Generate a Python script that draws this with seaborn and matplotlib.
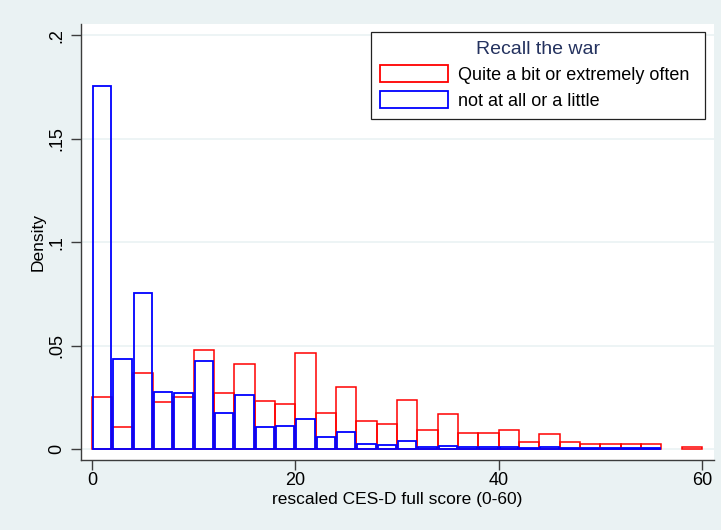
import numpy as np
import pandas as pd
import seaborn as sns
import matplotlib.pyplot as plt
from matplotlib.patches import Patch

# bins of width 2 on the rescaled CES-D score
bin_edges = list(range(0, 61, 2))
bin_centers = [e + 1 for e in bin_edges[:-1]]

# densities, one value per bin (0-2, 2-4, ..., 58-60)
often_density = [0.0250, 0.0108, 0.0368, 0.0229, 0.0250, 0.0477, 0.0270, 0.0409, 0.0231, 0.0220,
                 0.0464, 0.0173, 0.0299, 0.0136, 0.0121, 0.0238, 0.0092, 0.0170, 0.0077, 0.0077,
                 0.0092, 0.0034, 0.0074, 0.0032, 0.0023, 0.0026, 0.0023, 0.0023, 0.0, 0.0011]
little_density = [0.1754, 0.0436, 0.0753, 0.0275, 0.0270, 0.0428, 0.0173, 0.0260, 0.0105, 0.0113,
                  0.0144, 0.0057, 0.0081, 0.0024, 0.0021, 0.0037, 0.0011, 0.0016, 0.0008, 0.0008,
                  0.0010, 0.0005, 0.0008, 0.0005, 0.0003, 0.0003, 0.0003, 0.0003, 0.0, 0.0]

group_labels = ['Quite a bit or extremely often', 'not at all or a little']
group_colors = ['#FF0000', '#0000FF']
y_ticks = [0, 0.05, 0.1, 0.15, 0.2]
y_tick_labels = ['0', '.05', '.1', '.15', '.2']
x_ticks = [0, 20, 40, 60]

bg = '#EAF2F3'
plt.rcParams['font.family'] = ['Liberation Sans', 'DejaVu Sans']

df = pd.DataFrame({
    'score': bin_centers * 2,
    'density': often_density + little_density,
    'group': [group_labels[0]] * len(bin_centers) + [group_labels[1]] * len(bin_centers),
})

fig = plt.figure(figsize=(7.21, 5.30), dpi=100, facecolor=bg)
ax = fig.add_axes([81 / 721, 1 - 460 / 530, 633 / 721, 436 / 530])
ax.set_facecolor('white')

for lab, col, lw, shrink in zip(group_labels, group_colors, [1.1, 1.3], [1.0, 0.9]):
    sub = df[df['group'] == lab]
    sns.histplot(data=sub, x='score', weights='density', bins=bin_edges, element='bars',
                 fill=False, color=col, linewidth=lw, shrink=shrink, ax=ax, zorder=3)

# empty bins should not leave a line on the baseline
for p in ax.patches:
    if p.get_height() == 0:
        p.set_visible(False)

ax.set_xlim(-1.08, 61.18)
ax.set_ylim(-0.0053, 0.2055)
ax.set_yticks(y_ticks)
ax.set_yticklabels(y_tick_labels)
ax.set_xticks(x_ticks)
ax.grid(axis='y', color=bg, linewidth=1.2, zorder=0)
ax.grid(axis='x', visible=False)
ax.set_axisbelow(True)

for s in ['top', 'right']:
    ax.spines[s].set_visible(False)
for s in ['left', 'bottom']:
    ax.spines[s].set_color('#3C3C3C')
    ax.spines[s].set_linewidth(1.0)

ax.tick_params(axis='both', colors='#3C3C3C', length=7, width=1.0, labelsize=13, labelcolor='black')
ax.tick_params(axis='x', pad=1.5)
ax.tick_params(axis='y', pad=4)
plt.setp(ax.get_yticklabels(), rotation=90, va='center')

ax.set_xlabel('rescaled CES-D full score (0-60)', fontsize=12.5, labelpad=2.5)
ax.set_ylabel('Density', fontsize=12.5, labelpad=2)

handles = [Patch(facecolor='white', edgecolor=c, linewidth=1.3) for c in group_colors]
leg = ax.legend(handles, group_labels, title='Recall the war', loc='upper left',
                bbox_to_anchor=(0.4577, 0.787, 0.528, 0.195), mode='expand', borderaxespad=0,
                fontsize=13, title_fontsize=14, frameon=True, fancybox=False,
                handlelength=3.8, handleheight=1.1, handletextpad=0.55, labelspacing=0.4,
                borderpad=0.5)
leg.get_title().set_color('#24325F')
leg.get_frame().set_edgecolor('#222222')
leg.get_frame().set_linewidth(0.9)
leg.get_frame().set_alpha(1)

fig.savefig('out.png', dpi=100, facecolor=bg)
